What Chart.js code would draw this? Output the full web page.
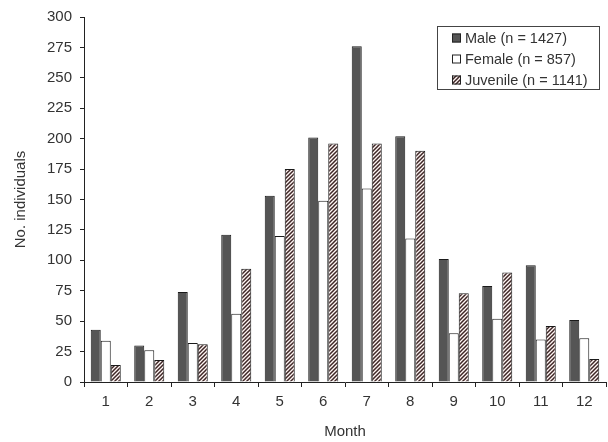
<!DOCTYPE html>
<html lang="en">
<head>
  <meta charset="UTF-8">
  <title>Monthly captures by sex and age class</title>
  <script src="https://cdn.jsdelivr.net/npm/chart.js"></script>
  <style>
    html, body { margin: 0; padding: 0; background: #fff; }
    #wrap { width: 608px; height: 442px; }
  </style>
</head>
<body>
  <div id="wrap"><canvas id="monthChart" width="608" height="442"></canvas></div>
  <script>
    const months = ['1', '2', '3', '4', '5', '6', '7', '8', '9', '10', '11', '12'];
    const male = [43, 30, 74, 121, 153, 201, 276, 202, 101, 79, 96, 51];
    const female = [34, 26, 32, 56, 120, 149, 159, 118, 40, 52, 35, 36];
    const juvenile = [14, 18, 31, 93, 175, 196, 196, 190, 73, 90, 46, 19];
    const seriesLabels = ['Male (n = 1427)', 'Female (n = 857)', 'Juvenile (n = 1141)'];

    const FONT = 'Arial, "Liberation Sans", sans-serif';
    const TEXT = '#333333';

    // diagonal hatch fill for the juvenile bars
    function hatch() {
      const c = document.createElement('canvas');
      c.width = 4; c.height = 4;
      const g = c.getContext('2d');
      g.fillStyle = '#fff6f4';
      g.fillRect(0, 0, 4, 4);
      g.strokeStyle = '#3e2626';
      g.lineWidth = 1.5;
      g.beginPath();
      g.moveTo(-1, 5); g.lineTo(5, -1);
      g.moveTo(-1, 1); g.lineTo(1, -1);
      g.moveTo(3, 5); g.lineTo(5, 3);
      g.stroke();
      return g.createPattern(c, 'repeat');
    }

    // boxed legend in the top right corner of the plot
    const boxLegend = {
      id: 'boxLegend',
      afterDraw(chart) {
        const ctx = chart.ctx;
        const x0 = 437, y0 = 26, w = 162, h = 63;
        ctx.save();
        ctx.fillStyle = '#fff';
        ctx.fillRect(x0, y0, w, h);
        ctx.strokeStyle = '#444';
        ctx.lineWidth = 1;
        ctx.strokeRect(x0 + 0.5, y0 + 0.5, w, h);
        ctx.font = '14.5px ' + FONT;
        ctx.textBaseline = 'middle';
        chart.data.datasets.forEach((ds, i) => {
          const cy = y0 + 12 + i * 21;
          ctx.fillStyle = ds.backgroundColor;
          ctx.fillRect(452, cy - 4.5, 9, 9);
          ctx.strokeStyle = '#222';
          ctx.strokeRect(452.5, cy - 4, 8, 8);
          ctx.fillStyle = TEXT;
          ctx.fillText(ds.label, 465, cy + 1);
        });
        ctx.restore();
      }
    };

    const common = { borderColor: '#1a1a1a', borderWidth: 1, categoryPercentage: 0.69, barPercentage: 1.0 };

    const chart = new Chart(document.getElementById('monthChart'), {
      type: 'bar',
      data: {
        labels: months,
        datasets: [
          Object.assign({ label: seriesLabels[0], data: male, backgroundColor: '#555555' }, common),
          Object.assign({ label: seriesLabels[1], data: female, backgroundColor: '#ffffff' }, common),
          Object.assign({ label: seriesLabels[2], data: juvenile, backgroundColor: hatch() }, common)
        ]
      },
      options: {
        responsive: false,
        animation: false,
        layout: { padding: { top: 17, right: 2, left: 0, bottom: 0 } },
        plugins: { legend: { display: false }, tooltip: { enabled: false } },
        scales: {
          x: {
            afterFit: s => { s.height = 60; },
            grid: { drawOnChartArea: false, drawTicks: true, tickLength: 5, color: '#222', offset: true },
            border: { display: true, color: '#222' },
            ticks: { color: TEXT, font: { family: FONT, size: 15 }, padding: 6, maxRotation: 0 },
            title: { display: true, text: 'Month', color: TEXT, font: { family: FONT, size: 15 }, padding: { top: 0, bottom: 1 } }
          },
          y: {
            min: 0, max: 300,
            afterFit: s => { s.width = 84; },
            grid: { drawOnChartArea: false, drawTicks: true, tickLength: 4, color: '#222' },
            border: { display: true, color: '#222' },
            ticks: { stepSize: 25, color: TEXT, font: { family: FONT, size: 15 }, padding: 8 },
            title: { display: true, text: 'No. individuals', color: TEXT, font: { family: FONT, size: 15 }, padding: { top: 12, bottom: 0 } }
          }
        }
      },
      plugins: [boxLegend]
    });
  </script>
</body>
</html>
